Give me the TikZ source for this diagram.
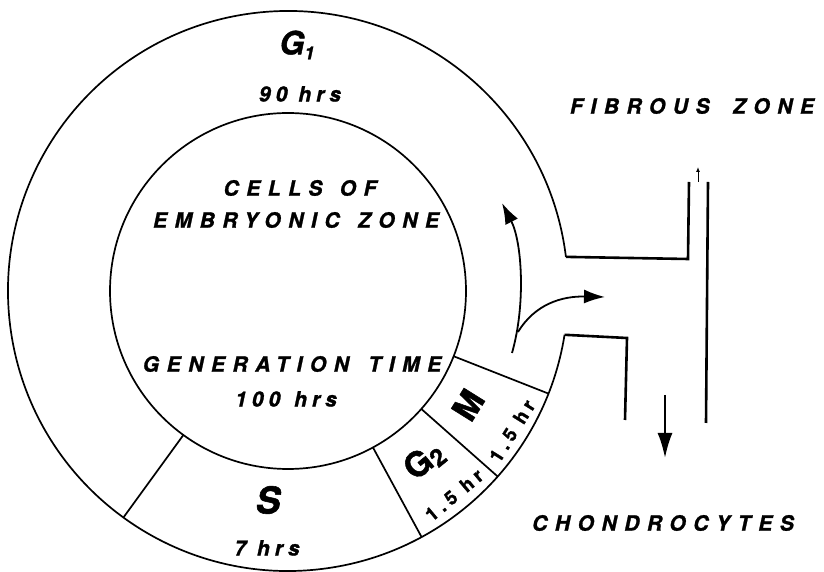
\documentclass[tikz,border=0pt]{standalone}
\usepackage{fontspec}
\setmainfont{TeX Gyre Heros}
\newfontfamily\widefont[LetterSpace=36,FakeBold=1.2]{TeX Gyre Heros}
\newfontfamily\hrsfont[LetterSpace=24,FakeBold=1.2]{TeX Gyre Heros}
\newfontfamily\heavyfont[FakeBold=1.5]{TeX Gyre Heros}
\usetikzlibrary{arrows.meta,calc}

\begin{document}
\begin{tikzpicture}[x=1pt,y=1pt,
    ring/.style={line width=1.7pt},
    wall/.style={line width=2.6pt},
    zonetext/.style={font=\widefont\fontsize{21}{24}\selectfont\bfseries\itshape},
    hrstext/.style={font=\hrsfont\fontsize{21}{22}\selectfont\bfseries\itshape},
    phasetext/.style={inner sep=0pt,font=\heavyfont\fontsize{34}{34}\selectfont\bfseries},
    slimtext/.style={inner sep=0pt,font=\hrsfont\fontsize{19}{20}\selectfont\bfseries}]
    \useasboundingbox (0,0) rectangle (824,572);
    \coordinate (c) at (288,281);

    % Cells of embryonic zone
    \draw[ring] (c) circle[radius=178];

    % Outer ring, open towards the channel
    \draw[ring] ($(c)+(7:280)$) coordinate (rtop)
      arc[start angle=7,end angle=351,radius=280] coordinate (rbot);

    % Phase boundaries (S | G2 | M | G1)
    \foreach \a in {234,-61.5,-41.5,-21.5}{
      \draw[ring] ($(c)+(\a:178)$) -- ($(c)+(\a:280)$);
    }

    % Channel walls
    \draw[wall] (rtop) -- (688,313) -- (689,390);
    \draw[wall] (rbot) -- (627,234) -- (625,152);
    \draw[wall] (708,390) -- (706,149);

    % Arrows
    \coordinate (a0) at (512,219);
    \coordinate (a1) at (502,369);
    \coordinate (a2) at (518,240);
    \coordinate (a3) at (605,275);
    \draw[line width=1.8pt,-{Latex[length=21pt,width=14pt]}]
      (a0) .. controls (526,268) and (522,330) .. (a1);
    \draw[line width=1.8pt,-{Latex[length=21pt,width=14pt]}]
      (a2) .. controls (535,268) and (562,276) .. (a3);
    \coordinate (d0) at (665,177);
    \coordinate (d1) at (665,114);
    \draw[line width=2.2pt,-{Latex[length=25pt,width=15pt]}] (d0) -- (d1);
    \coordinate (u0) at (698,390);
    \coordinate (u1) at (698,405);
    \draw[line width=1pt,-{Latex[length=5pt,width=4pt]}] (u0) -- (u1);

    % Labels
    \node[phasetext,font=\heavyfont\fontsize{32}{32}\selectfont\bfseries\itshape] (g1) at (297,527)
      {G\raisebox{-5pt}{\fontsize{18}{18}\selectfont 1}};
    \node[hrstext] (g1t) at (300,478) {90 hrs};
    \node[zonetext] (cells) at (300,384) {CELLS\hspace{4pt} OF};
    \node[zonetext] (embryo) at (296,352) {EMBRYONIC\hspace{5pt} ZONE};
    \node[zonetext] (gen) at (292,208) {GENERATION\hspace{6pt} TIME};
    \node[hrstext] (gent) at (286,173) {100\hspace{3pt} hrs};
    \node[phasetext,font=\heavyfont\fontsize{37}{37}\selectfont\bfseries\itshape] (s) at (268,72) {S};
    \node[hrstext] (st) at (267,24) {7 hrs};
    \node[phasetext,rotate=39] (g2) at (424,111)
      {G\raisebox{-4pt}{\fontsize{24}{24}\selectfont 2}};
    \node[slimtext,rotate=40] (g2t) at (454,77) {1.5 hr};
    \node[phasetext,rotate=58] (m) at (468,167) {M};
    \node[slimtext,rotate=58] (mt) at (512,141) {1.5 hr};
    \node[zonetext] (fibrous) at (692,466) {FIBROUS\hspace{10pt} ZONE};
    \node[zonetext] (chondro) at (663,49) {CHONDROCYTES};
  \end{tikzpicture}
\end{document}
